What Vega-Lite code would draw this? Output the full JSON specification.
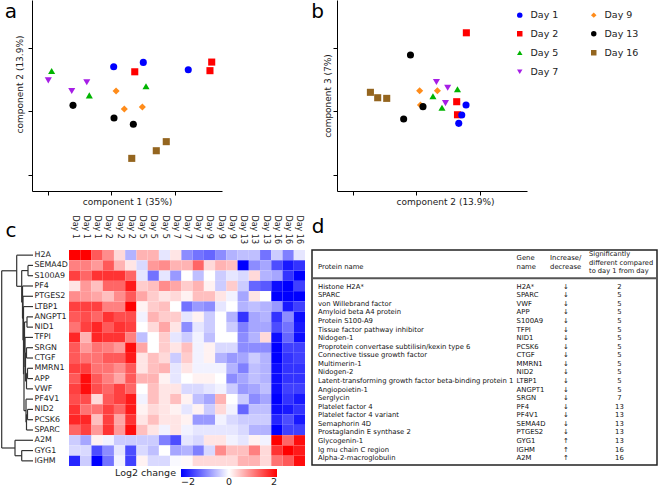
{
"$schema":"https://vega.github.io/schema/vega-lite/v6.json",
"padding":0,
"background":"white",
"config":{"view":{"stroke":null},"font":"DejaVu Sans","axis":{"labelFont":"DejaVu Sans","titleFont":"DejaVu Sans"},"legend":{"labelFont":"DejaVu Sans","titleFont":"DejaVu Sans"},"text":{"font":"DejaVu Sans"}},
"datasets":{
"pca":[
{"panel":"a","day":"Day 1","x":5.16,"y":7.81},{"panel":"a","day":"Day 1","x":7.03,"y":8.08},{"panel":"a","day":"Day 1","x":9.87,"y":7.62},
{"panel":"a","day":"Day 2","x":6.49,"y":7.49},{"panel":"a","day":"Day 2","x":11.35,"y":8.10},{"panel":"a","day":"Day 2","x":11.24,"y":7.56},
{"panel":"a","day":"Day 5","x":1.24,"y":7.54},{"panel":"a","day":"Day 5","x":3.62,"y":6.01},{"panel":"a","day":"Day 5","x":7.20,"y":6.58},
{"panel":"a","day":"Day 7","x":1.03,"y":6.95},{"panel":"a","day":"Day 7","x":2.51,"y":6.28},{"panel":"a","day":"Day 7","x":3.46,"y":6.83},
{"panel":"a","day":"Day 9","x":5.31,"y":6.28},{"panel":"a","day":"Day 9","x":5.83,"y":5.15},{"panel":"a","day":"Day 9","x":6.97,"y":5.28},
{"panel":"a","day":"Day 13","x":2.59,"y":5.38},{"panel":"a","day":"Day 13","x":5.18,"y":4.59},{"panel":"a","day":"Day 13","x":6.40,"y":4.19},
{"panel":"a","day":"Day 16","x":6.30,"y":2.05},{"panel":"a","day":"Day 16","x":7.85,"y":2.53},{"panel":"a","day":"Day 16","x":8.48,"y":3.10},
{"panel":"b","day":"Day 16","x":2.11,"y":6.20},{"panel":"b","day":"Day 16","x":2.57,"y":5.86},{"panel":"b","day":"Day 16","x":3.14,"y":5.82},
{"panel":"b","day":"Day 9","x":5.22,"y":6.30},{"panel":"b","day":"Day 9","x":6.34,"y":6.30},{"panel":"b","day":"Day 9","x":5.27,"y":5.40},
{"panel":"b","day":"Day 13","x":4.64,"y":8.54},{"panel":"b","day":"Day 13","x":5.43,"y":5.30},{"panel":"b","day":"Day 13","x":4.21,"y":4.52},
{"panel":"b","day":"Day 5","x":6.06,"y":5.95},{"panel":"b","day":"Day 5","x":7.61,"y":6.39},{"panel":"b","day":"Day 5","x":6.63,"y":5.23},
{"panel":"b","day":"Day 7","x":6.28,"y":6.85},{"panel":"b","day":"Day 7","x":6.99,"y":6.49},{"panel":"b","day":"Day 7","x":6.85,"y":5.52},
{"panel":"b","day":"Day 2","x":8.17,"y":9.94},{"panel":"b","day":"Day 2","x":7.56,"y":5.61},{"panel":"b","day":"Day 2","x":7.61,"y":4.79},
{"panel":"b","day":"Day 1","x":8.15,"y":5.40},{"panel":"b","day":"Day 1","x":7.88,"y":4.77},{"panel":"b","day":"Day 1","x":7.69,"y":4.25}
],
"heat":[
{"gene":"H2A","1_a":2.0,"1_b":2.0,"1_c":1.3,"2_a":0.9,"2_b":0.3,"2_c":-0.6,"5_a":0.6,"5_b":0.6,"5_c":-0.2,"7_a":0.2,"7_b":-0.9,"7_c":-1.1,"9_a":-1.2,"9_b":-0.9,"9_c":-0.6,"13_a":-0.5,"13_b":-0.5,"13_c":-1.1,"16_a":-0.4,"16_b":-1.0,"16_c":-0.2},
{"gene":"SEMA4D","1_a":1.0,"1_b":1.0,"1_c":0.8,"2_a":1.3,"2_b":0.6,"2_c":0.2,"5_a":-0.3,"5_b":0.8,"5_c":0.9,"7_a":0.6,"7_b":0.6,"7_c":1.2,"9_a":0.3,"9_b":0.6,"9_c":0.5,"13_a":-2.0,"13_b":-0.9,"13_c":-0.7,"16_a":-1.4,"16_b":-1.8,"16_c":-1.6},
{"gene":"S100A9","1_a":1.5,"1_b":1.2,"1_c":1.6,"2_a":1.6,"2_b":1.6,"2_c":1.2,"5_a":-0.2,"5_b":-1.1,"5_c":-0.2,"7_a":-0.8,"7_b":0.0,"7_c":-0.5,"9_a":0.0,"9_b":-0.4,"9_c":-0.2,"13_a":-0.3,"13_b":0.3,"13_c":-0.6,"16_a":-0.7,"16_b":-1.6,"16_c":-2.0},
{"gene":"PF4","1_a":0.2,"1_b":0.8,"1_c":0.5,"2_a":1.2,"2_b":1.2,"2_c":1.8,"5_a":0.4,"5_b":0.5,"5_c":0.9,"7_a":0.7,"7_b":0.4,"7_c":0.6,"9_a":0.1,"9_b":-0.4,"9_c":0.4,"13_a":-0.4,"13_b":-1.2,"13_c":-1.3,"16_a":-1.9,"16_b":-2.0,"16_c":-1.5},
{"gene":"PTGES2","1_a":0.9,"1_b":0.8,"1_c":0.7,"2_a":0.5,"2_b":0.9,"2_c":1.3,"5_a":0.7,"5_b":0.4,"5_c":0.2,"7_a":0.3,"7_b":0.1,"7_c":0.5,"9_a":0.5,"9_b":0.2,"9_c":-0.1,"13_a":-0.7,"13_b":0.2,"13_c":0.0,"16_a":-2.0,"16_b":-2.0,"16_c":-2.0},
{"gene":"LTBP1","1_a":1.5,"1_b":1.5,"1_c":1.5,"2_a":1.0,"2_b":1.0,"2_c":2.0,"5_a":0.1,"5_b":0.4,"5_c":0.5,"7_a":0.0,"7_b":-1.1,"7_c":-0.8,"9_a":-0.9,"9_b":-0.2,"9_c":0.0,"13_a":-0.6,"13_b":-0.5,"13_c":-0.6,"16_a":-0.8,"16_b":-1.8,"16_c":-1.5},
{"gene":"ANGPT1","1_a":1.3,"1_b":1.4,"1_c":1.2,"2_a":1.6,"2_b":1.4,"2_c":1.4,"5_a":-0.1,"5_b":0.6,"5_c":0.4,"7_a":0.4,"7_b":-0.2,"7_c":0.1,"9_a":-0.4,"9_b":0.0,"9_c":-0.6,"13_a":-1.6,"13_b":-0.7,"13_c":-0.6,"16_a":-1.6,"16_b":-0.9,"16_c":-1.9},
{"gene":"NID1","1_a":1.1,"1_b":1.5,"1_c":1.7,"2_a":1.3,"2_b":1.6,"2_c":1.5,"5_a":0.0,"5_b":0.3,"5_c":0.7,"7_a":0.2,"7_b":-0.9,"7_c":-0.2,"9_a":-0.4,"9_b":0.0,"9_c":-0.4,"13_a":-1.0,"13_b":-0.7,"13_c":-0.7,"16_a":-1.4,"16_b":-1.1,"16_c":-1.8},
{"gene":"TFPI","1_a":1.7,"1_b":0.6,"1_c":1.7,"2_a":1.6,"2_b":1.6,"2_c":1.0,"5_a":-0.5,"5_b":0.0,"5_c":0.4,"7_a":-0.2,"7_b":-0.4,"7_c":-0.1,"9_a":-0.5,"9_b":0.0,"9_c":0.0,"13_a":-0.9,"13_b":-0.6,"13_c":0.3,"16_a":-1.9,"16_b":-1.2,"16_c":-1.9},
{"gene":"SRGN","1_a":1.3,"1_b":0.8,"1_c":1.1,"2_a":1.0,"2_b":0.8,"2_c":1.9,"5_a":0.7,"5_b":0.0,"5_c":0.4,"7_a":0.2,"7_b":0.5,"7_c":-0.1,"9_a":0.1,"9_b":-0.3,"9_c":-0.3,"13_a":-0.9,"13_b":-0.9,"13_c":-0.9,"16_a":-2.0,"16_b":-1.5,"16_c":-1.5},
{"gene":"CTGF","1_a":1.3,"1_b":1.1,"1_c":1.1,"2_a":1.3,"2_b":1.3,"2_c":1.8,"5_a":0.2,"5_b":0.5,"5_c":0.3,"7_a":-0.4,"7_b":0.4,"7_c":-0.1,"9_a":0.1,"9_b":-0.6,"9_c":-0.8,"13_a":-0.7,"13_b":-0.4,"13_c":-0.6,"16_a":-2.0,"16_b":-1.6,"16_c":-1.5},
{"gene":"MMRN1","1_a":1.5,"1_b":1.5,"1_c":1.1,"2_a":1.1,"2_b":0.9,"2_c":1.3,"5_a":0.2,"5_b":0.5,"5_c":0.6,"7_a":-0.2,"7_b":0.2,"7_c":-0.1,"9_a":-0.1,"9_b":-0.1,"9_c":-0.6,"13_a":-1.0,"13_b":-0.5,"13_c":-0.6,"16_a":-1.9,"16_b":-1.6,"16_c":-1.6},
{"gene":"APP","1_a":1.3,"1_b":1.9,"1_c":1.3,"2_a":1.0,"2_b":0.7,"2_c":1.3,"5_a":0.6,"5_b":0.6,"5_c":0.1,"7_a":-0.2,"7_b":0.0,"7_c":0.1,"9_a":0.1,"9_b":0.0,"9_c":-0.9,"13_a":-0.7,"13_b":-0.5,"13_c":-0.6,"16_a":-1.9,"16_b":-1.6,"16_c":-1.6},
{"gene":"VWF","1_a":1.5,"1_b":1.9,"1_c":1.4,"2_a":1.2,"2_b":1.5,"2_c":1.2,"5_a":0.0,"5_b":0.5,"5_c":0.2,"7_a":0.2,"7_b":-0.3,"7_c":-0.3,"9_a":-0.2,"9_b":-0.1,"9_c":-0.4,"13_a":-0.8,"13_b":-0.7,"13_c":-0.5,"16_a":-1.9,"16_b":-1.5,"16_c":-1.5},
{"gene":"PF4V1","1_a":1.4,"1_b":1.4,"1_c":0.3,"2_a":1.3,"2_b":1.5,"2_c":1.8,"5_a":-0.1,"5_b":0.5,"5_c":0.2,"7_a":0.5,"7_b":0.1,"7_c":-0.5,"9_a":-0.7,"9_b":0.6,"9_c":0.0,"13_a":-0.4,"13_b":-0.9,"13_c":-0.7,"16_a":-2.0,"16_b":-1.6,"16_c":-1.8},
{"gene":"NID2","1_a":1.6,"1_b":1.1,"1_c":1.1,"2_a":1.5,"2_b":1.2,"2_c":1.8,"5_a":0.1,"5_b":0.3,"5_c":0.2,"7_a":0.1,"7_b":-0.2,"7_c":0.1,"9_a":-0.4,"9_b":0.3,"9_c":-0.1,"13_a":-1.2,"13_b":-0.5,"13_c":-0.5,"16_a":-1.9,"16_b":-1.8,"16_c":-1.6},
{"gene":"PCSK6","1_a":1.7,"1_b":1.7,"1_c":0.5,"2_a":1.5,"2_b":0.7,"2_c":1.6,"5_a":0.2,"5_b":0.5,"5_c":0.2,"7_a":0.2,"7_b":0.1,"7_c":-0.8,"9_a":-0.8,"9_b":-0.1,"9_c":-0.3,"13_a":-0.4,"13_b":-0.4,"13_c":-0.4,"16_a":-1.7,"16_b":-1.4,"16_c":-1.8},
{"gene":"SPARC","1_a":1.2,"1_b":1.5,"1_c":0.8,"2_a":1.6,"2_b":0.8,"2_c":1.9,"5_a":0.5,"5_b":0.2,"5_c":-0.1,"7_a":0.2,"7_b":-0.1,"7_c":-0.2,"9_a":-0.2,"9_b":-0.2,"9_c":-0.2,"13_a":-0.3,"13_b":-0.6,"13_c":-0.6,"16_a":-2.0,"16_b":-1.5,"16_c":-1.5},
{"gene":"A2M","1_a":-0.4,"1_b":-0.7,"1_c":0.1,"2_a":-0.1,"2_b":-0.4,"2_c":-0.4,"5_a":-0.4,"5_b":-0.4,"5_c":-1.0,"7_a":-1.4,"7_b":-0.2,"7_c":-0.3,"9_a":0.2,"9_b":0.2,"9_c":-0.1,"13_a":-0.2,"13_b":0.1,"13_c":-0.1,"16_a":2.0,"16_b":1.2,"16_c":1.9},
{"gene":"GYG1","1_a":-0.3,"1_b":-0.3,"1_c":-1.4,"2_a":-0.9,"2_b":-0.2,"2_c":-1.4,"5_a":-0.3,"5_b":-0.5,"5_c":0.0,"7_a":-0.7,"7_b":-0.6,"7_c":-1.0,"9_a":-0.3,"9_b":0.9,"9_c":0.5,"13_a":0.5,"13_b":1.0,"13_c":0.3,"16_a":1.6,"16_b":2.0,"16_c":1.8},
{"gene":"IGHM","1_a":-1.7,"1_b":-0.4,"1_c":-2.0,"2_a":-1.1,"2_b":-0.1,"2_c":-1.5,"5_a":0.1,"5_b":-0.3,"5_c":-0.3,"7_a":-0.05,"7_b":0.05,"7_c":0.3,"9_a":0.3,"9_b":0.3,"9_c":0.3,"13_a":0.6,"13_b":0.6,"13_c":0.3,"16_a":1.1,"16_b":1.3,"16_c":1.9}
],
"dendro":[
{"h1":5,"h2":5,"r1":1,"r2":2},{"h1":5,"h2":0,"r1":1,"r2":1},{"h1":5,"h2":0,"r1":2,"r2":2},
{"h1":6,"h2":6,"r1":6,"r2":7},{"h1":6,"h2":0,"r1":6,"r2":6},{"h1":6,"h2":0,"r1":7,"r2":7},
{"h1":5.5,"h2":5.5,"r1":11,"r2":12},{"h1":5.5,"h2":0,"r1":11,"r2":11},{"h1":5.5,"h2":0,"r1":12,"r2":12},
{"h1":5.5,"h2":5.5,"r1":15,"r2":16},{"h1":5.5,"h2":0,"r1":15,"r2":15},{"h1":5.5,"h2":0,"r1":16,"r2":16},
{"h1":6.5,"h2":6.5,"r1":15.5,"r2":17},{"h1":6.5,"h2":5.5,"r1":15.5,"r2":15.5},{"h1":6.5,"h2":0,"r1":17,"r2":17},
{"h1":7,"h2":7,"r1":14,"r2":16.25},{"h1":7,"h2":0,"r1":14,"r2":14},{"h1":7,"h2":6.5,"r1":16.25,"r2":16.25},
{"h1":6.5,"h2":6.5,"r1":11.5,"r2":13},{"h1":6.5,"h2":5.5,"r1":11.5,"r2":11.5},{"h1":6.5,"h2":0,"r1":13,"r2":13},
{"h1":6.5,"h2":6.5,"r1":9,"r2":10},{"h1":6.5,"h2":0,"r1":9,"r2":9},{"h1":6.5,"h2":0,"r1":10,"r2":10},
{"h1":7.5,"h2":7.5,"r1":9.5,"r2":12.25},{"h1":7.5,"h2":6.5,"r1":9.5,"r2":9.5},{"h1":7.5,"h2":6.5,"r1":12.25,"r2":12.25},
{"h1":8,"h2":8,"r1":8,"r2":10.875},{"h1":8,"h2":0,"r1":8,"r2":8},{"h1":8,"h2":7.5,"r1":10.875,"r2":10.875},
{"h1":8.5,"h2":8.5,"r1":6.5,"r2":9.44},{"h1":8.5,"h2":6,"r1":6.5,"r2":6.5},{"h1":8.5,"h2":8,"r1":9.44,"r2":9.44},
{"h1":9,"h2":9,"r1":7.97,"r2":15.125},{"h1":9,"h2":8.5,"r1":7.97,"r2":7.97},{"h1":9,"h2":7,"r1":15.125,"r2":15.125},
{"h1":9.5,"h2":9.5,"r1":5,"r2":11.55},{"h1":9.5,"h2":0,"r1":5,"r2":5},{"h1":9.5,"h2":9,"r1":11.55,"r2":11.55},
{"h1":10,"h2":10,"r1":4,"r2":8.27},{"h1":10,"h2":0,"r1":4,"r2":4},{"h1":10,"h2":9.5,"r1":8.27,"r2":8.27},
{"h1":10.5,"h2":10.5,"r1":3,"r2":6.14},{"h1":10.5,"h2":0,"r1":3,"r2":3},{"h1":10.5,"h2":10,"r1":6.14,"r2":6.14},
{"h1":11.3,"h2":11.3,"r1":1.5,"r2":4.57},{"h1":11.3,"h2":5,"r1":1.5,"r2":1.5},{"h1":11.3,"h2":10.5,"r1":4.57,"r2":4.57},
{"h1":16.3,"h2":16.3,"r1":0,"r2":3.03},{"h1":16.3,"h2":0,"r1":0,"r2":0},{"h1":16.3,"h2":11.3,"r1":3.03,"r2":3.03},
{"h1":11.3,"h2":11.3,"r1":19,"r2":20},{"h1":11.3,"h2":0,"r1":19,"r2":19},{"h1":11.3,"h2":0,"r1":20,"r2":20},
{"h1":18,"h2":18,"r1":18,"r2":19.5},{"h1":18,"h2":0,"r1":18,"r2":18},{"h1":18,"h2":11.3,"r1":19.5,"r2":19.5},
{"h1":31.3,"h2":31.3,"r1":1.52,"r2":18.75},{"h1":31.3,"h2":16.3,"r1":1.52,"r2":1.52},{"h1":31.3,"h2":18,"r1":18.75,"r2":18.75}
],
"table":[
{"row":0,"protein":"Histone H2A*","gene":"H2A*","dir":"↓","day":2},
{"row":1,"protein":"SPARC","gene":"SPARC","dir":"↓","day":5},
{"row":2,"protein":"von Willebrand factor","gene":"VWF","dir":"↓","day":5},
{"row":3,"protein":"Amyloid beta A4 protein","gene":"APP","dir":"↓","day":5},
{"row":4,"protein":"Protein S100-A9","gene":"S100A9","dir":"↓","day":5},
{"row":5,"protein":"Tissue factor pathway inhibitor","gene":"TFPI","dir":"↓","day":5},
{"row":6,"protein":"Nidogen-1","gene":"NID1","dir":"↓","day":5},
{"row":7,"protein":"Proprotein convertase subtilisin/kexin type 6","gene":"PCSK6","dir":"↓","day":5},
{"row":8,"protein":"Connective tissue growth factor","gene":"CTGF","dir":"↓","day":5},
{"row":9,"protein":"Multimerin-1","gene":"MMRN1","dir":"↓","day":5},
{"row":10,"protein":"Nidogen-2","gene":"NID2","dir":"↓","day":5},
{"row":11,"protein":"Latent-transforming growth factor beta-binding protein 1","gene":"LTBP1","dir":"↓","day":5},
{"row":12,"protein":"Angiopoietin-1","gene":"ANGPT1","dir":"↓","day":5},
{"row":13,"protein":"Serglycin","gene":"SRGN","dir":"↓","day":7},
{"row":14,"protein":"Platelet factor 4","gene":"PF4","dir":"↓","day":13},
{"row":15,"protein":"Platelet factor 4 variant","gene":"PF4V1","dir":"↓","day":13},
{"row":16,"protein":"Semaphorin 4D","gene":"SEMA4D","dir":"↓","day":13},
{"row":17,"protein":"Prostaglandin E synthase 2","gene":"PTGES2","dir":"↓","day":13},
{"row":18,"protein":"Glycogenin-1","gene":"GYG1","dir":"↑","day":13},
{"row":19,"protein":"Ig mu chain C region","gene":"IGHM","dir":"↑","day":16},
{"row":20,"protein":"Alpha-2-macroglobulin","gene":"A2M","dir":"↑","day":16}
]
},
"vconcat":[
{"hconcat":[
  {"hconcat":[
    {"width":1,"height":1,"data":{"values":[]},"mark":"point"},
    {"width":190,"height":191,
     "layer":[
      {"data":{"name":"pca"},"transform":[{"filter":"datum.panel === 'a'"}],
       "mark":{"type":"point","filled":true,"size":50,"opacity":1},
       "encoding":{
        "x":{"field":"x","type":"quantitative","scale":{"domain":[0,12],"nice":false,"zero":false},"axis":{"title":"component 1 (35%)","labels":false,"grid":false,"values":[1,2,3,4,5,6,7,8,9,10,11],"tickSize":4,"tickColor":"#000","domainColor":"#000","titleFontSize":9,"titleFontWeight":"normal","titleColor":"#222","titlePadding":2}},
        "y":{"field":"y","type":"quantitative","scale":{"domain":[0,12],"nice":false,"zero":false},"axis":{"title":"component 2 (13.9%)","labels":false,"grid":false,"values":[1,2,3,4,5,6,7,8,9,10,11],"tickSize":4,"tickColor":"#000","domainColor":"#000","titleFontSize":9,"titleFontWeight":"normal","titleColor":"#222","titlePadding":3,"titleY":84}},
        "color":{"field":"day","type":"nominal","scale":{"domain":["Day 1","Day 2","Day 5","Day 7","Day 9","Day 13","Day 16"],"range":["#0000ff","#ff0000","#00b400","#a61ee6","#ff8c1a","#000000","#94651f"]},"legend":null},
        "shape":{"field":"day","type":"nominal","scale":{"domain":["Day 1","Day 2","Day 5","Day 7","Day 9","Day 13","Day 16"],"range":["circle","square","triangle-up","triangle-down","diamond","circle","square"]},"legend":null}
       }},
      {"data":{"values":[{"label":"a"}]},"mark":{"type":"text","fontSize":20,"align":"center","baseline":"alphabetic"},
       "encoding":{"text":{"field":"label"},"x":{"datum":-1.33},"y":{"datum":10.87}}}
     ]}
  ],"spacing":31,"bounds":"flush"},
  {"width":190,"height":191,
   "layer":[
    {"data":{"name":"pca"},"transform":[{"filter":"datum.panel === 'b'"}],
     "mark":{"type":"point","filled":true,"size":50,"opacity":1},
     "encoding":{
      "x":{"field":"x","type":"quantitative","scale":{"domain":[0,12],"nice":false,"zero":false},"axis":{"title":"component 2 (13.9%)","labels":false,"grid":false,"values":[1,2,3,4,5,6,7,8,9,10,11],"tickSize":4,"tickColor":"#000","domainColor":"#000","titleFontSize":9,"titleFontWeight":"normal","titleColor":"#222","titlePadding":2,"titleX":108}},
      "y":{"field":"y","type":"quantitative","scale":{"domain":[0,12],"nice":false,"zero":false},"axis":{"title":"component 3 (7%)","labels":false,"grid":false,"values":[1,2,3,4,5,6,7,8,9,10,11],"tickSize":4,"tickColor":"#000","domainColor":"#000","titleFontSize":9,"titleFontWeight":"normal","titleColor":"#222","titlePadding":0}},
      "color":{"field":"day","type":"nominal","scale":{"domain":["Day 1","Day 2","Day 5","Day 7","Day 9","Day 13","Day 16"],"range":["#0000ff","#ff0000","#00b400","#a61ee6","#ff8c1a","#000000","#94651f"]},"legend":{"orient":"none","legendX":178,"legendY":10,"columns":2,"title":null,"labelFontSize":9.5,"symbolSize":30,"columnPadding":30,"rowPadding":8,"labelOffset":6,"labelColor":"#222"}},
      "shape":{"field":"day","type":"nominal","scale":{"domain":["Day 1","Day 2","Day 5","Day 7","Day 9","Day 13","Day 16"],"range":["circle","square","triangle-up","triangle-down","diamond","circle","square"]},"legend":{"orient":"none","legendX":178,"legendY":10,"columns":2,"title":null,"labelFontSize":9.5,"symbolSize":30,"columnPadding":30,"rowPadding":8,"labelOffset":6,"labelColor":"#222"}}
     }},
    {"data":{"values":[{"label":"b"}]},"mark":{"type":"text","fontSize":20,"align":"center","baseline":"alphabetic"},
     "encoding":{"text":{"field":"label"},"x":{"datum":-1.22},"y":{"datum":10.87}}}
   ]}
 ],"spacing":337,"bounds":"flush","resolve":{"legend":{"color":"independent","shape":"independent"}}},
{"hconcat":[
  {"hconcat":[
    {"width":33,"height":216,
     "layer":[
      {"data":{"name":"dendro"},"mark":{"type":"rule","color":"#333","strokeWidth":1.2},
       "encoding":{
        "x":{"field":"h1","type":"quantitative","scale":{"domain":[0,33],"reverse":true,"nice":false,"zero":false},"axis":null},
        "x2":{"field":"h2"},
        "y":{"field":"r1","type":"quantitative","scale":{"domain":[-0.5,20.5],"reverse":true,"nice":false,"zero":false},"axis":null},
        "y2":{"field":"r2"}}},
      {"data":{"values":[{"label":"c"}]},"mark":{"type":"text","fontSize":20,"align":"center","baseline":"alphabetic"},
       "encoding":{"text":{"field":"label"},"x":{"datum":22},"y":{"datum":-1.76}}}
     ]},
    {"width":236,"height":216,
     "data":{"name":"heat"},
     "transform":[{"fold":["1_a","1_b","1_c","2_a","2_b","2_c","5_a","5_b","5_c","7_a","7_b","7_c","9_a","9_b","9_c","13_a","13_b","13_c","16_a","16_b","16_c"],"as":["sample","v"]}],
     "mark":{"type":"rect"},
     "encoding":{
      "x":{"field":"sample","type":"nominal","sort":null,"scale":{"paddingInner":0,"paddingOuter":0},
           "axis":{"orient":"top","title":null,"ticks":false,"tickSize":0,"domain":false,"labelAngle":90,"labelAlign":"left","labelBaseline":"middle","labelPadding":35,"labelFontSize":8,"labelColor":"#222","labelExpr":"'Day ' + split(datum.label, '_')[0]"}},
      "y":{"field":"gene","type":"nominal","sort":null,"scale":{"paddingInner":0,"paddingOuter":0},
           "axis":{"title":null,"ticks":false,"tickSize":0,"domain":false,"labelAlign":"left","labelPadding":35,"labelFontSize":7.9,"labelColor":"#222"}},
      "color":{"field":"v","type":"quantitative","scale":{"domain":[-2,0,2],"range":["#0000ff","#ffffff","#ff0000"],"clamp":true,"interpolate":"rgb"},
           "legend":{"orient":"none","legendX":115,"legendY":219,"direction":"horizontal","title":"Log2 change","titleOrient":"left","titleFontSize":9.5,"titleFontWeight":"normal","titleColor":"#222","titleBaseline":"middle","titlePadding":5,"gradientLength":96,"gradientThickness":8,"gradientStrokeWidth":0,"values":[-2,0,2],"labelFontSize":9.5,"labelOffset":0,"labelColor":"#222"}}
     }}
  ],"spacing":36,"bounds":"flush"},
  {"width":345,"height":215,
   "view":{"stroke":"#222","strokeWidth":1.5},
   "layer":[
    {"data":{"name":"table"},"mark":{"type":"text","align":"left","fontSize":6.85,"color":"#111"},
     "encoding":{"x":{"datum":1.74,"scale":{"domain":[0,100],"nice":false,"zero":false},"axis":null},
                 "y":{"field":"row","type":"quantitative","scale":{"domain":[-4.27,20.79],"reverse":true,"nice":false,"zero":false},"axis":null},
                 "text":{"field":"protein"}}},
    {"data":{"name":"table"},"mark":{"type":"text","align":"left","fontSize":6.85,"color":"#111"},
     "encoding":{"x":{"datum":59.3},"y":{"field":"row","type":"quantitative"},"text":{"field":"gene"}}},
    {"data":{"name":"table"},"mark":{"type":"text","align":"center","fontSize":6.85,"color":"#111"},
     "encoding":{"x":{"datum":73.6},"y":{"field":"row","type":"quantitative"},"text":{"field":"dir"}}},
    {"data":{"name":"table"},"mark":{"type":"text","align":"center","fontSize":6.85,"color":"#111"},
     "encoding":{"x":{"datum":89.1},"y":{"field":"row","type":"quantitative"},"text":{"field":"day"}}},
    {"data":{"values":[{"t":"Protein name"}]},"mark":{"type":"text","align":"left","fontSize":6.85,"color":"#111"},
     "encoding":{"x":{"datum":1.74},"y":{"datum":-2.28},"text":{"field":"t"}}},
    {"data":{"values":[{"t":"Gene\nname"}]},"mark":{"type":"text","align":"left","fontSize":6.85,"color":"#111","lineBreak":"\n","lineHeight":8.7},
     "encoding":{"x":{"datum":59.3},"y":{"datum":-3.33},"text":{"field":"t"}}},
    {"data":{"values":[{"t":"Increase/\ndecrease"}]},"mark":{"type":"text","align":"left","fontSize":6.85,"color":"#111","lineBreak":"\n","lineHeight":8.7},
     "encoding":{"x":{"datum":69.0},"y":{"datum":-3.3},"text":{"field":"t"}}},
    {"data":{"values":[{"t":"Significantly\ndifferent compared\nto day 1 from day"}]},"mark":{"type":"text","align":"left","fontSize":6.7,"color":"#111","lineBreak":"\n","lineHeight":8.7},
     "encoding":{"x":{"datum":80.3},"y":{"datum":-3.8},"text":{"field":"t"}}},
    {"data":{"values":[{}]},"mark":{"type":"rule","color":"#555","strokeWidth":2},
     "encoding":{"y":{"datum":-0.97}}},
    {"data":{"values":[{"label":"d"}]},"mark":{"type":"text","fontSize":20,"align":"center","baseline":"alphabetic"},
     "encoding":{"x":{"datum":1.74},"y":{"datum":-6.25},"text":{"field":"label"}}}
   ]}
 ],"spacing":312,"bounds":"flush"}
],
"spacing":250,
"bounds":"flush",
"resolve":{"scale":{"color":"independent","shape":"independent"},"legend":{"color":"independent","shape":"independent"}}
}
